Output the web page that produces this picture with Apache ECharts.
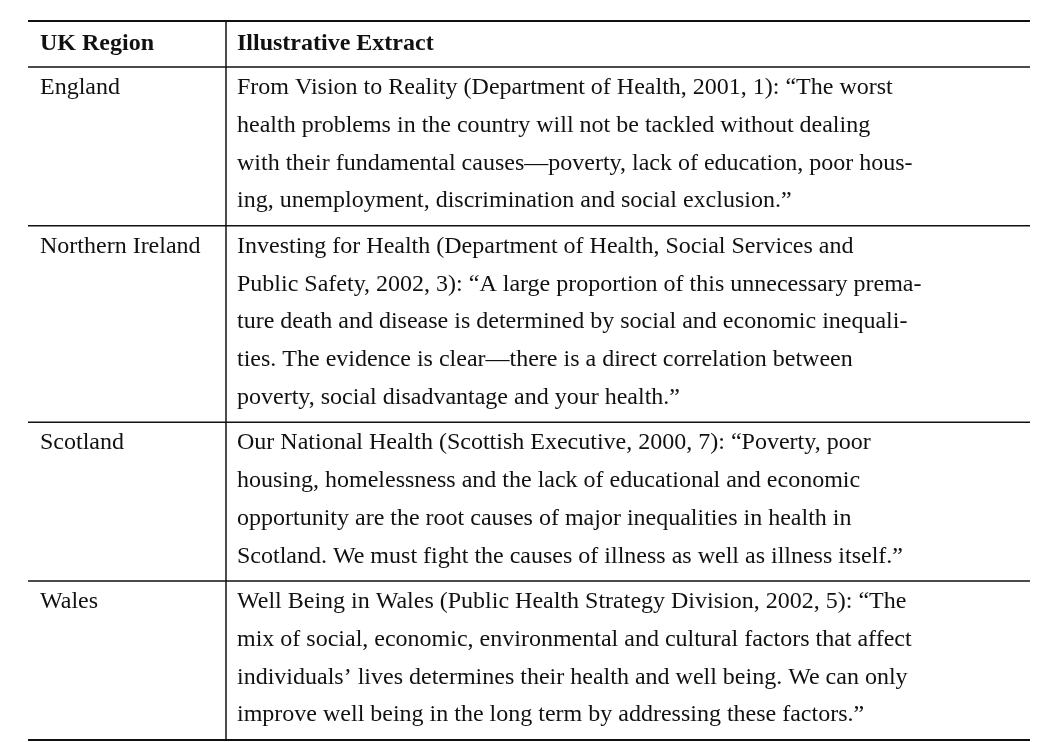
<!DOCTYPE html>
<html><head><meta charset="utf-8">
<script src="https://cdn.jsdelivr.net/npm/echarts@6/dist/echarts.min.js"></script>
<style>html,body{margin:0;background:#fff}#chart{width:1060px;height:742px}</style>
</head><body><div id="chart"></div>
<script>
const headers = ['UK Region', 'Illustrative Extract'];
const regions = ['England', 'Northern Ireland', 'Scotland', 'Wales'];
const extracts = [
  ['From Vision to Reality (Department of Health, 2001, 1): \u201cThe worst',
   'health problems in the country will not be tackled without dealing',
   'with their fundamental causes\u2014poverty, lack of education, poor hous-',
   'ing, unemployment, discrimination and social exclusion.\u201d'],
  ['Investing for Health (Department of Health, Social Services and',
   'Public Safety, 2002, 3): \u201cA large proportion of this unnecessary prema-',
   'ture death and disease is determined by social and economic inequali-',
   'ties. The evidence is clear\u2014there is a direct correlation between',
   'poverty, social disadvantage and your health.\u201d'],
  ['Our National Health (Scottish Executive, 2000, 7): \u201cPoverty, poor',
   'housing, homelessness and the lack of educational and economic',
   'opportunity are the root causes of major inequalities in health in',
   'Scotland. We must fight the causes of illness as well as illness itself.\u201d'],
  ['Well Being in Wales (Public Health Strategy Division, 2002, 5): \u201cThe',
   'mix of social, economic, environmental and cultural factors that affect',
   'individuals\u2019 lives determines their health and well being. We can only',
   'improve well being in the long term by addressing these factors.\u201d']
];

const tLeft = 28, tRight = 1030, tMid = 226, col1 = 40, col2 = 237, col2W = 785;
const tTop = 21, headH = 46, lineH = 37.7, pad = 8;
const font = '"Liberation Serif", "DejaVu Serif", serif';
const els = [];
function hline(y, w) {
  els.push({ type: 'line', shape: { x1: tLeft, y1: y, x2: tRight, y2: y }, style: { stroke: '#111', lineWidth: w } });
}
function text(x, y, s, bold, maxW) {
  els.push({ type: 'text', x: x, y: y, style: { text: s, fill: '#111', font: (bold ? 'bold ' : '') + '24px ' + font, textVerticalAlign: 'middle' } });
}
hline(tTop, 2);
text(col1, tTop + headH / 2, headers[0], true);
text(col2, tTop + headH / 2, headers[1], true);
let y = tTop + headH;
hline(y, 1.5);
regions.forEach((r, i) => {
  text(col1, y + 2 + lineH / 2, r);
  extracts[i].forEach((l, j) => text(col2, y + 2 + lineH / 2 + j * lineH, l));
  y += extracts[i].length * lineH + pad;
  hline(y, i === regions.length - 1 ? 2 : 1.5);
});
els.push({ type: 'line', shape: { x1: tMid, y1: tTop, x2: tMid, y2: y }, style: { stroke: '#111', lineWidth: 1.5 } });

const chart = echarts.init(document.getElementById('chart'));
chart.setOption({ animation: false, graphic: { elements: els } });
</script></body></html>
